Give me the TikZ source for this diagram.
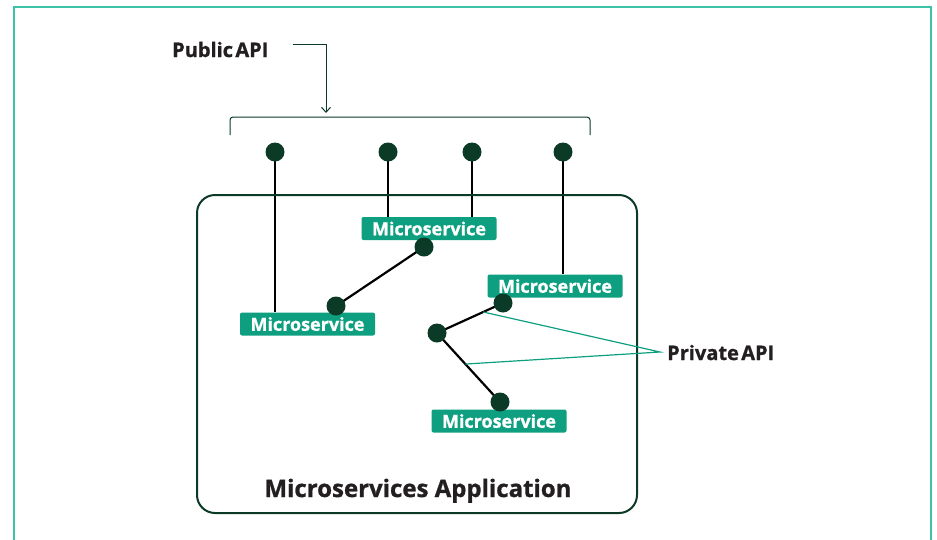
\documentclass[tikz,border=0pt]{standalone}
\usepackage{fontspec}
\setmainfont{Open Sans}[BoldFeatures={FakeBold=1}]
\usetikzlibrary{arrows.meta,backgrounds,calc}
\definecolor{frameteal}{HTML}{3CC2A6}
\definecolor{boxteal}{HTML}{0E9F80}
\definecolor{darkgreen}{HTML}{0B3A26}
\definecolor{labeltext}{HTML}{231F20}
\tikzset{
  msbox/.style={fill=boxteal, text=white, rounded corners=2pt, font=\fontsize{18}{18}\selectfont\bfseries,
    minimum width=135pt, minimum height=23pt, inner sep=0pt},
  apidot/.style={circle, fill=darkgreen, minimum size=19pt, inner sep=0pt},
  conn/.style={black, line width=2.2pt},
  callout/.style={boxteal, line width=1.2pt},
  lbl/.style={text=labeltext, font=\fontsize{20}{20}\selectfont\bfseries, inner sep=0pt},
}
\begin{document}
\begin{tikzpicture}[x=1pt,y=-1pt]
\path[use as bounding box] (0,0) rectangle (937,539);
% outer frame
\draw[frameteal, line width=2pt] (14,560) -- (14,7) -- (931,7) -- (931,560);
% main application box
\node[draw=darkgreen, line width=2pt, rounded corners=18pt, minimum width=440pt, minimum height=318pt, inner sep=0pt] (app) at (417,354) {};
\node[lbl, font=\fontsize{24}{24}\selectfont\bfseries, anchor=base] (apptitle) at (418,497) {Microservices Application};
% public API label and arrow
\node[lbl, anchor=base west] (pub) at (172,57) {Public\hspace{0.12em}API};
\coordinate (pubbend) at (326,44);
\coordinate (bracketmid) at (326,113);
\draw[darkgreen, line width=1pt, -{Straight Barb[length=5pt,width=9pt]}] ([xshift=24pt]pub.east |- pubbend) -- (pubbend) -- (bracketmid);
% bracket
\coordinate (bl) at (230,135);
\coordinate (br) at (590,135);
\draw[darkgreen, line width=1pt, rounded corners=3pt] (bl) -- (230,117) -- (590,117) -- (br);
% microservices
\node[msbox] (m1) at (429,228.5) {Microservice};
\node[msbox] (m2) at (307.5,324) {Microservice};
\node[msbox] (m3) at (555,286) {Microservice};
\node[msbox] (m4) at (499,421) {Microservice};
% public dots
\node[apidot] (p1) at (275,152) {};
\node[apidot] (p2) at (388,152) {};
\node[apidot] (p3) at (472,152) {};
\node[apidot] (p4) at (563,152) {};
% private dots
\node[apidot] (q1) at (424,247) {};
\node[apidot] (q2) at (336,306) {};
\node[apidot] (q3) at (503,303) {};
\node[apidot] (q4) at (437,333) {};
\node[apidot] (q5) at (500,402) {};
\begin{scope}[on background layer]
\draw[conn] (p1.center) -- (p1.center |- m2.north);
\draw[conn] (p2.center) -- (p2.center |- m1.north);
\draw[conn] (p3.center) -- (p3.center |- m1.north);
\draw[conn] (p4.center) -- (p4.center |- m3.north);
\draw[conn] (q1.center) -- (q2.center);
\draw[conn] (q3.center) -- (q4.center);
\draw[conn] (q4.center) -- (q5.center);
\end{scope}
% private API label
\node[lbl, anchor=base west] (priv) at (667,360) {Private\hspace{0.12em}API};
\coordinate (cA) at ($(q3)!0.3!(q4)$);
\coordinate (cB) at ($(q4)!0.45!(q5)$);
\coordinate (pj) at (660,352);
\draw[callout] (cA) -- (pj) -- (cB);
\end{tikzpicture}
\end{document}
